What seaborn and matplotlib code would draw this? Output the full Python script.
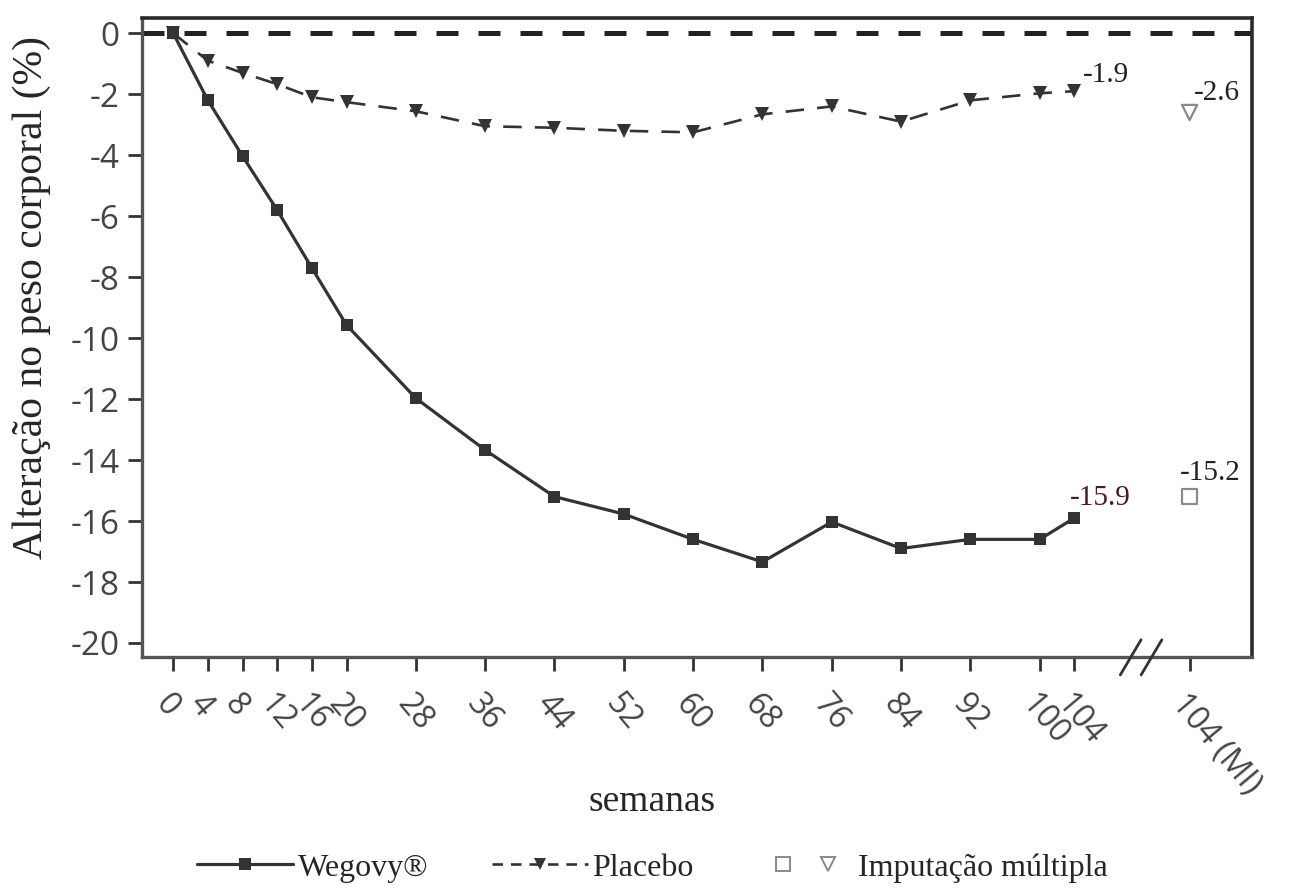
import numpy as np
import pandas as pd
import seaborn as sns
import matplotlib.pyplot as plt
from matplotlib.lines import Line2D
from matplotlib.legend_handler import HandlerTuple
import matplotlib.transforms as mtransforms

# data
weeks = [0, 4, 8, 12, 16, 20, 28, 36, 44, 52, 60, 68, 76, 84, 92, 100, 104]
wegovy = [0, -2.2, -4.03, -5.8, -7.7, -9.57, -11.97, -13.67, -15.2, -15.77,
          -16.6, -17.34, -16.03, -16.9, -16.6, -16.6, -15.9]
placebo = [0, -0.9, -1.3, -1.67, -2.1, -2.26, -2.56, -3.05, -3.1, -3.2,
           -3.25, -2.66, -2.4, -2.9, -2.2, -1.97, -1.9]
mi_pos = 117.3          # slot of the "104 (MI)" tick after the axis break
mi_wegovy = -15.2
mi_placebo = -2.6
tick_pos = weeks + [mi_pos]
tick_labels = [str(w) for w in weeks] + ['104 (MI)']
y_ticks = list(range(0, -21, -2))

df_w = pd.DataFrame({'semanas': weeks, 'valor': wegovy})
df_p = pd.DataFrame({'semanas': weeks, 'valor': placebo})
df_mi = pd.DataFrame({'semanas': [mi_pos, mi_pos], 'valor': [mi_wegovy, mi_placebo],
                      'grupo': ['Wegovy', 'Placebo']})

sns.set_style('ticks')
plt.rcParams['font.family'] = ['Liberation Serif', 'DejaVu Serif']

fig = plt.figure(figsize=(12.97, 8.91), dpi=100)
ax = fig.add_axes([0.1095, 0.2626, 0.8558, 0.7172])

line_col = '#333333'
ax.axhline(0, color='#222222', lw=3.6, dashes=(4.4, 4.0), zorder=1)

sns.lineplot(data=df_w, x='semanas', y='valor', ax=ax, color=line_col, lw=2.3,
             marker='s', markersize=9, markeredgewidth=0, zorder=3)
sns.lineplot(data=df_p, x='semanas', y='valor', ax=ax, color=line_col, lw=1.9,
             marker='v', markersize=10, markeredgewidth=0, zorder=3)
ax.lines[-1].set_dashes((7, 5))
sns.scatterplot(data=df_mi, x='semanas', y='valor', style='grupo',
                markers={'Wegovy': 's', 'Placebo': 'v'}, s=120,
                facecolor='white', edgecolor='#8a8a8a', linewidth=1.6,
                ax=ax, legend=False, zorder=4)

ann_kw = dict(textcoords='offset points', fontsize=21, va='bottom', ha='left')
ax.annotate(f'{placebo[-1]}', (weeks[-1], placebo[-1]), xytext=(6, 2), color='#222222', **ann_kw)
ax.annotate(f'{mi_placebo}', (mi_pos, mi_placebo), xytext=(3, 5), color='#222222', **ann_kw)
ax.annotate(f'{wegovy[-1]}', (weeks[-1], wegovy[-1]), xytext=(-3, 5), color='#4a1a28', **ann_kw)
ax.annotate(f'{mi_wegovy}', (mi_pos, mi_wegovy), xytext=(-7, 8), color='#222222', **ann_kw)

ax.set_xlim(-3.6, 124.5)
ax.set_ylim(-20.46, 0.5)
ax.set_xticks(tick_pos)
ax.set_xticklabels(tick_labels, rotation=-50, ha='left', va='top',
                   rotation_mode='anchor', family='Open Sans', fontsize=23, color='#444444')
ax.set_yticks(y_ticks)
ax.set_yticklabels([str(v) for v in y_ticks], family='Open Sans', fontsize=24, color='#444444')
ax.tick_params(axis='both', direction='out', length=10, width=2, color='#333333')
ax.tick_params(axis='x', pad=12)
ax.tick_params(axis='y', pad=6)

for side in ['left', 'bottom']:
    ax.spines[side].set_linewidth(2.4)
    ax.spines[side].set_color('#555555')
for side in ['top', 'right']:
    ax.spines[side].set_visible(True)
    ax.spines[side].set_linewidth(2.6)
    ax.spines[side].set_color('#2a2a2a')

# axis break marks
trans = mtransforms.blended_transform_factory(ax.transData, ax.transAxes)
for bx in [110.5, 112.9]:
    ax.plot([bx - 1.2, bx + 1.2], [-0.028, 0.027], transform=trans, color='#333333',
            lw=2, clip_on=False, zorder=5)

ax.set_xlabel('semanas', fontsize=27)
ax.set_ylabel('Alteração no peso corporal (%)', fontsize=30)
ax.xaxis.set_label_coords(0.4595, -0.2)
ax.yaxis.set_label_coords(-0.082, 0.562)

h_w = Line2D([], [], color=line_col, lw=2.3, marker='s', markersize=9, markeredgewidth=0)
h_p = Line2D([], [], color=line_col, lw=1.9, dashes=(4, 3), marker='v', markersize=9,
             markeredgewidth=0)
h_ms = Line2D([], [], ls='none', marker='s', markersize=10, markerfacecolor='white',
              markeredgecolor='#8a8a8a', markeredgewidth=1.4)
h_mt = Line2D([], [], ls='none', marker='v', markersize=10, markerfacecolor='white',
              markeredgecolor='#8a8a8a', markeredgewidth=1.4)
fig.legend([h_w, h_p, (h_ms, h_mt)], ['Wegovy®', 'Placebo', 'Imputação múltipla'],
           handler_map={tuple: HandlerTuple(ndivide=None, pad=-0.2)},
           loc='center', bbox_to_anchor=(0.503, 0.026), ncol=3, frameon=False,
           fontsize=23, handlelength=3.0, handletextpad=0.15, columnspacing=2.0,
           markerscale=1.0)

fig.savefig('out.png', dpi=100)
